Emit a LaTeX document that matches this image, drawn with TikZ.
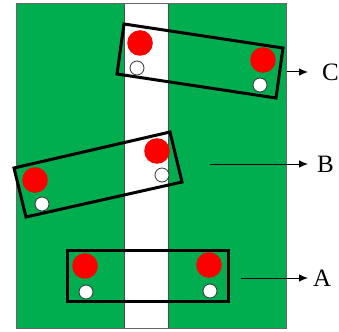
\documentclass[tikz,border=0pt]{standalone}
\usepackage{fontspec}
\setmainfont{Liberation Serif}
\usetikzlibrary{arrows.meta}
\definecolor{field}{RGB}{0,173,79}
\tikzset{
  boxline/.style={draw=black,line width=3pt,line join=miter},
  redball/.style={fill=red,draw=none},
  whiteball/.style={fill=white,draw=black!80,line width=0.8pt},
  pointer/.style={draw=black,line width=1pt,-{Latex[length=9pt,width=7.5pt]}},
  lbl/.style={font=\fontsize{25}{29}\selectfont,inner sep=0pt}
}
\begin{document}
\begin{tikzpicture}[x=1pt,y=-1pt]
\useasboundingbox (0,0) rectangle (339,331);
% field
\fill[field] (16,3) rectangle (286,328);
\fill[white] (124,3) rectangle (168,328);
\draw[black!70,line width=0.6pt] (124,3) -- (124,328) (168,3) -- (168,328);
\draw[black!60,line width=0.8pt] (16,3) rectangle (286,328);
% box A
\draw[boxline] (67,250) rectangle (228,301);
\fill[redball] (85,266) circle (12.8);
\fill[redball] (209,265) circle (12.8);
\draw[whiteball] (86,292) circle (7);
\draw[whiteball] (210,291) circle (7);
% box B
\draw[boxline] (14,168) -- (170,132) -- (182,182) -- (26,217) -- cycle;
\fill[redball] (35,180) circle (12.8);
\fill[redball] (157,151) circle (12.8);
\draw[whiteball] (42,204) circle (7);
\draw[whiteball] (162,175) circle (7);
% box C
\draw[boxline] (124,24) -- (283,48) -- (276,98) -- (117,74) -- cycle;
\fill[redball] (140,43) circle (12.8);
\fill[redball] (263,60) circle (12.8);
\draw[whiteball] (137,68) circle (7);
\draw[whiteball] (260,85) circle (7);
% labels
\node[lbl,anchor=west] (A) at (313,278) {A};
\node[lbl,anchor=west] (B) at (317,164) {B};
\node[lbl,anchor=west] (C) at (322,72) {C};
\coordinate (aS) at (241,278);
\coordinate (bS) at (210,164);
\coordinate (cS) at (287,72);
\draw[pointer] (aS) -- ([xshift=-5pt]A.west);
\draw[pointer] (bS) -- ([xshift=-9pt]B.west);
\draw[pointer] (cS) -- ([xshift=-14pt]C.west);
\end{tikzpicture}
\end{document}
